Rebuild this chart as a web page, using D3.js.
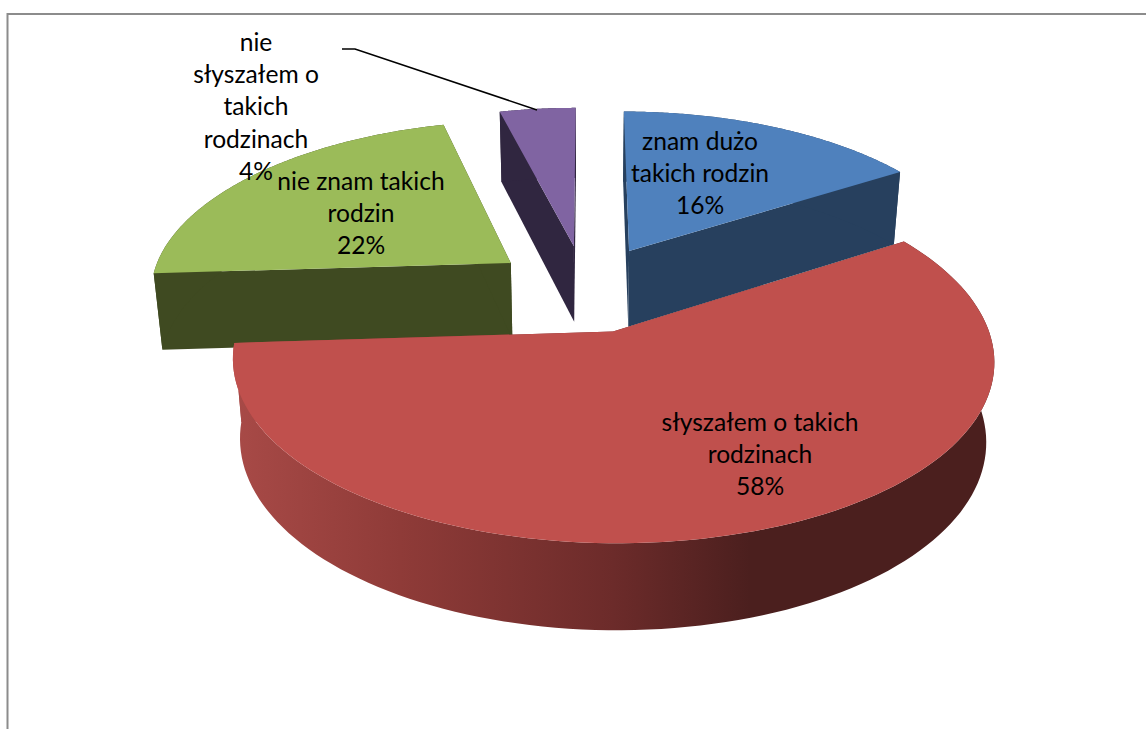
<!DOCTYPE html>
<html>
<head>
<meta charset="utf-8">
<script src="https://cdn.jsdelivr.net/npm/d3@7"></script>
<style>
  html, body { margin: 0; padding: 0; background: #fff; }
  svg { display: block; }
  text { font-family: Lato, "Open Sans", sans-serif; font-size: 24.6px; fill: #000; text-anchor: middle; }
</style>
</head>
<body>
<div id="chart"></div>
<script>
// chart values, clockwise from 12 o'clock
const categories = ['znam dużo takich rodzin', 'słyszałem o takich rodzinach', 'nie znam takich rodzin', 'nie słyszałem o takich rodzinach'];
const values = [16, 58, 22, 4];
const labelLines = [
  ['znam dużo', 'takich rodzin'],
  ['słyszałem o takich', 'rodzinach'],
  ['nie znam takich', 'rodzin'],
  ['nie', 'słyszałem o', 'takich', 'rodzinach']
];
const topColors = ['#4f81bd', '#c0504d', '#9bbb59', '#8064a2'];
const sideColors = ['#27405e', '#c0504d', '#3f4a21', '#302640'];
const labelAnchors = [[700, 141], [760, 422], [361, 181], [256, 42]];

const width = 1146, height = 729;

// perspective set-up of the tilted pie
const cy = 331.5;
const vanishX = 588, shiftX = 25; // vanishing point sits left of the red apex
const radiusX = 376, radiusY = 181, persp = 0.145, perspX = 0.157;
const explode = 0.26;
const backNudge = 0.006; // the three rear slices sit a touch further right

const svg = d3.select('#chart').append('svg').attr('width', width).attr('height', height);

// frame, only left and top are visible in the crop
svg.append('path')
  .attr('d', 'M7.5,729V14H1146')
  .attr('fill', 'none')
  .attr('stroke', '#8c8c8c')
  .attr('stroke-width', 2);

const grad = svg.append('defs').append('linearGradient')
  .attr('id', 'redWall')
  .attr('gradientUnits', 'userSpaceOnUse')
  .attr('x1', 233).attr('x2', 994).attr('y1', 0).attr('y2', 0);
[[0, '#a84a47'], [0.22, '#8f3b38'], [0.5, '#6c2b2a'], [0.68, '#4b1f1e'], [1, '#4b1f1e']].forEach(function(s) {
  grad.append('stop').attr('offset', s[0]).attr('stop-color', s[1]);
});

// model coords to screen, top surface
function projTop(u, v) {
  const sx = 1 / (1 - perspX * v);
  const sy = 1 / (1 - persp * v);
  return [vanishX + (radiusX * u + shiftX) * sx, cy + radiusY * v * sy];
}
// same point on the bottom surface
function projBottom(u, v) {
  const s = 1 / (1 - perspX * v);
  const p = projTop(u, v);
  return [vanishX + (p[0] - vanishX) * 0.98, p[1] + 34 + 44.7 * s];
}

const pie = d3.pie().sort(null).value(d => d)(values);
const line = d3.line();

// red is the anchor: it sits at model origin once exploded
const redMid = (pie[1].startAngle + pie[1].endAngle) / 2;
const originU = -explode * Math.sin(redMid);
const originV = explode * Math.cos(redMid);

function drawSlice(i) {
  const d = pie[i];
  const mid = (d.startAngle + d.endAngle) / 2;
  const ou = originU + explode * Math.sin(mid) + (i === 1 ? 0 : backNudge);
  const ov = originV - explode * Math.cos(mid);
  const steps = d3.range(0, 121).map(k => d.startAngle + (d.endAngle - d.startAngle) * k / 120);
  const rim = steps.map(a => [ou + Math.sin(a), ov - Math.cos(a)]);
  const first = rim[0], last = rim[rim.length - 1];
  const g = svg.append('g').attr('class', 'slice');

  // radial faces
  [first, last].forEach(function(e) {
    g.append('path')
      .attr('d', line([projTop(ou, ov), projTop(e[0], e[1]), projBottom(e[0], e[1]), projBottom(ou, ov)]) + 'Z')
      .attr('fill', i === 1 ? 'url(#redWall)' : sideColors[i]);
  });
  // outer wall
  g.append('path')
    .attr('d', line(rim.map(p => projTop(p[0], p[1])).concat(rim.slice().reverse().map(p => projBottom(p[0], p[1])))) + 'Z')
    .attr('fill', i === 1 ? 'url(#redWall)' : sideColors[i]);
  // top surface
  g.append('path')
    .attr('d', line([projTop(ou, ov)].concat(rim.map(p => projTop(p[0], p[1])))) + 'Z')
    .attr('fill', topColors[i]);
}

// back slices first, red goes over them
[3, 2, 0, 1].forEach(drawSlice);

// leader for the small slice
svg.append('path')
  .attr('d', line([[342, 49], [355, 49], [537, 110]]))
  .attr('fill', 'none')
  .attr('stroke', '#000')
  .attr('stroke-width', 1.6);

// labels
const lineGap = 32.4;
[3, 0, 2, 1].forEach(function(i) {
  const rows = labelLines[i].concat(values[i] + '%');
  svg.append('g').selectAll('text')
    .data(rows)
    .enter()
    .append('text')
    .attr('x', labelAnchors[i][0])
    .attr('y', (r, k) => labelAnchors[i][1] + k * lineGap)
    .attr('dy', '0.35em')
    .text(r => r);
});
</script>
</body>
</html>
